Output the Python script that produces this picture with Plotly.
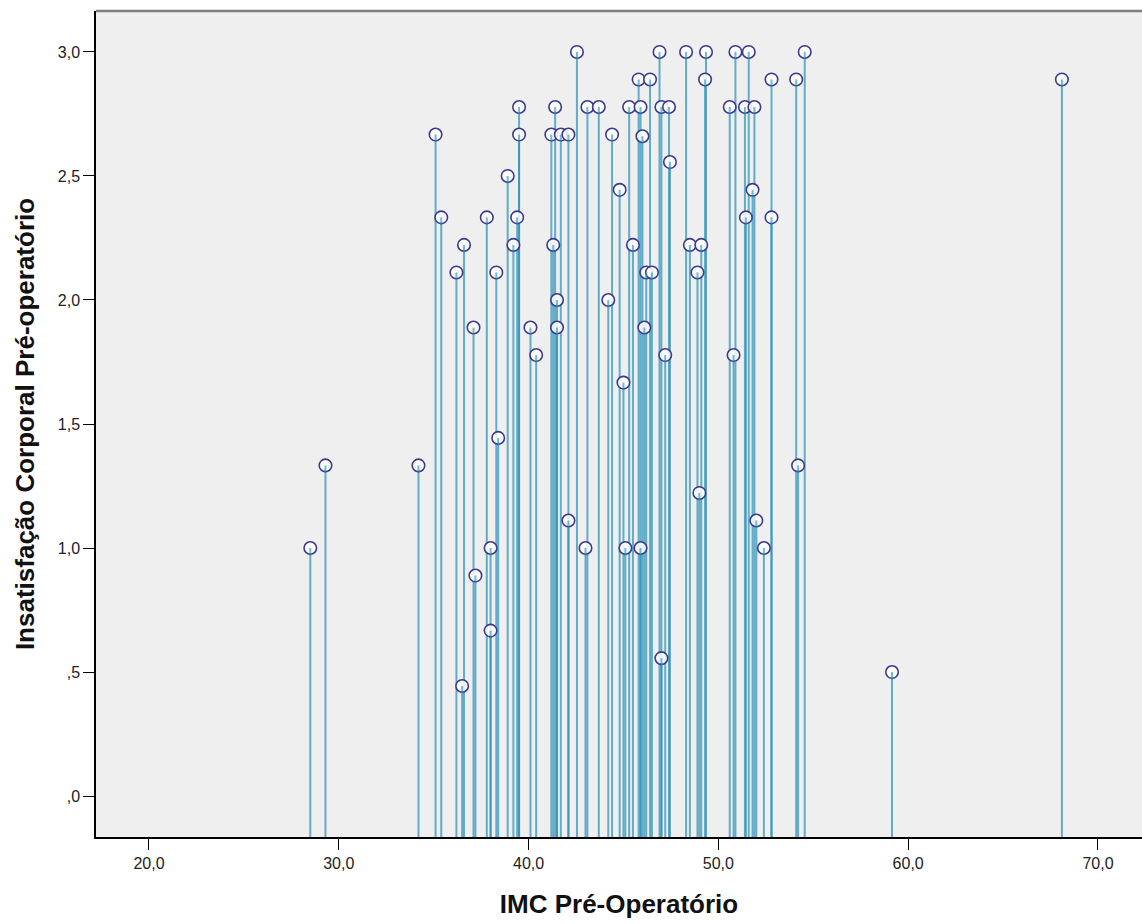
import plotly.graph_objects as go

# IMC Pré-Operatório (x) and Insatisfação Corporal Pré-operatório (y)
imc = [28.5, 29.3, 34.2, 35.1, 35.4, 36.2, 36.6, 36.5, 37.1, 37.2,
       37.8, 38.0, 38.0, 38.3, 38.4, 38.9, 39.2, 39.4, 39.5, 39.5,
       40.1, 40.4, 41.2, 41.3, 41.4, 41.5, 41.5, 41.7, 42.1, 42.1,
       42.55, 43.0, 43.1, 43.7, 44.2, 44.4, 44.8, 45.0, 45.1, 45.3,
       45.5, 45.8, 45.9, 45.9, 46.0, 46.1, 46.2, 46.4, 46.5, 46.9,
       47.0, 47.0, 47.2, 47.4, 47.45, 48.3, 48.5, 48.9, 49.0, 49.1,
       49.3, 49.35, 50.6, 50.8, 50.9, 51.4, 51.45, 51.6, 51.8, 51.9,
       52.0, 52.4, 52.8, 52.8, 54.1, 54.2, 54.55, 59.15, 68.1]
insat = [1.000, 1.333, 1.333, 2.667, 2.333, 2.111, 2.222, 0.444, 1.889, 0.889,
         2.333, 1.000, 0.667, 2.111, 1.444, 2.500, 2.222, 2.333, 2.778, 2.667,
         1.889, 1.778, 2.667, 2.222, 2.778, 2.000, 1.889, 2.667, 2.667, 1.111,
         3.000, 1.000, 2.778, 2.778, 2.000, 2.667, 2.444, 1.667, 1.000, 2.778,
         2.222, 2.889, 2.778, 1.000, 2.660, 1.889, 2.111, 2.889, 2.111, 3.000,
         2.778, 0.556, 1.778, 2.778, 2.556, 3.000, 2.222, 2.111, 1.222, 2.222,
         2.889, 3.000, 2.778, 1.778, 3.000, 2.778, 2.333, 3.000, 2.444, 2.778,
         1.111, 1.000, 2.889, 2.333, 2.889, 1.333, 3.000, 0.500, 2.889]

x_ticks = [20, 30, 40, 50, 60, 70]
x_tick_labels = ["20,0", "30,0", "40,0", "50,0", "60,0", "70,0"]
y_ticks = [0, 0.5, 1.0, 1.5, 2.0, 2.5, 3.0]
y_tick_labels = [",0", ",5", "1,0", "1,5", "2,0", "2,5", "3,0"]

x_range = [17.21, 72.32]
y_range = [-0.165, 3.165]

# drop lines from each point down to the bottom of the plot
lx, ly = [], []
for xv, yv in zip(imc, insat):
    lx += [xv, xv, None]
    ly += [y_range[0], yv, None]

# short stem segment entering each circle (drawn above the markers)
cx, cy = [], []
for xv, yv in zip(imc, insat):
    cx += [xv, xv, None]
    cy += [yv - 0.03, yv, None]

fig = go.Figure()
fig.add_trace(go.Scatter(
    x=lx, y=ly, mode="lines",
    line=dict(color="rgba(45,145,185,0.72)", width=2),
    hoverinfo="skip", showlegend=False))
fig.add_trace(go.Scatter(
    x=imc, y=insat, mode="markers",
    marker=dict(size=12.5, color="rgba(255,255,255,0.85)",
                line=dict(color="#3b3a8c", width=1.6)),
    showlegend=False))
fig.add_trace(go.Scatter(
    x=cx, y=cy, mode="lines",
    line=dict(color="rgba(45,145,185,0.6)", width=2),
    hoverinfo="skip", showlegend=False))

title_font = dict(family="Liberation Sans, Arial, sans-serif", size=26, color="#111111")
tick_font = dict(family="Liberation Sans, Arial, sans-serif", size=16, color="#222222")

fig.update_layout(
    width=1142, height=924,
    margin=dict(l=96, r=0, t=11, b=87),
    paper_bgcolor="white",
    plot_bgcolor="#efefef",
    font=dict(family="Liberation Sans, Arial, sans-serif", size=16, color="#222222"),
    xaxis=dict(
        range=x_range, tickvals=x_ticks, ticktext=x_tick_labels,
        showgrid=False, zeroline=False,
        showline=True, linecolor="black", linewidth=1.5,
        ticks="outside", ticklen=11, tickcolor="black", tickwidth=1.3,
        tickfont=tick_font,
        title=dict(text="<b>IMC Pré-Operatório</b>", font=title_font, standoff=24),
    ),
    yaxis=dict(
        range=y_range, tickvals=y_ticks, ticktext=y_tick_labels,
        showgrid=False, zeroline=False,
        showline=True, linecolor="black", linewidth=1.5,
        ticks="outside", ticklen=11, tickcolor="black", tickwidth=1.3,
        tickfont=tick_font,
        title=dict(text="<b>Insatisfação Corporal Pré-operatório</b>", font=title_font, standoff=16),
    ),
    shapes=[dict(type="line", xref="paper", yref="paper", x0=0, x1=1, y0=1, y1=1,
                 line=dict(color="#7f7f7f", width=2.5))],
)

fig.write_html("out.html", config={"displayModeBar": False},
               post_script="document.body.style.margin='0';document.body.style.overflow='hidden';")
